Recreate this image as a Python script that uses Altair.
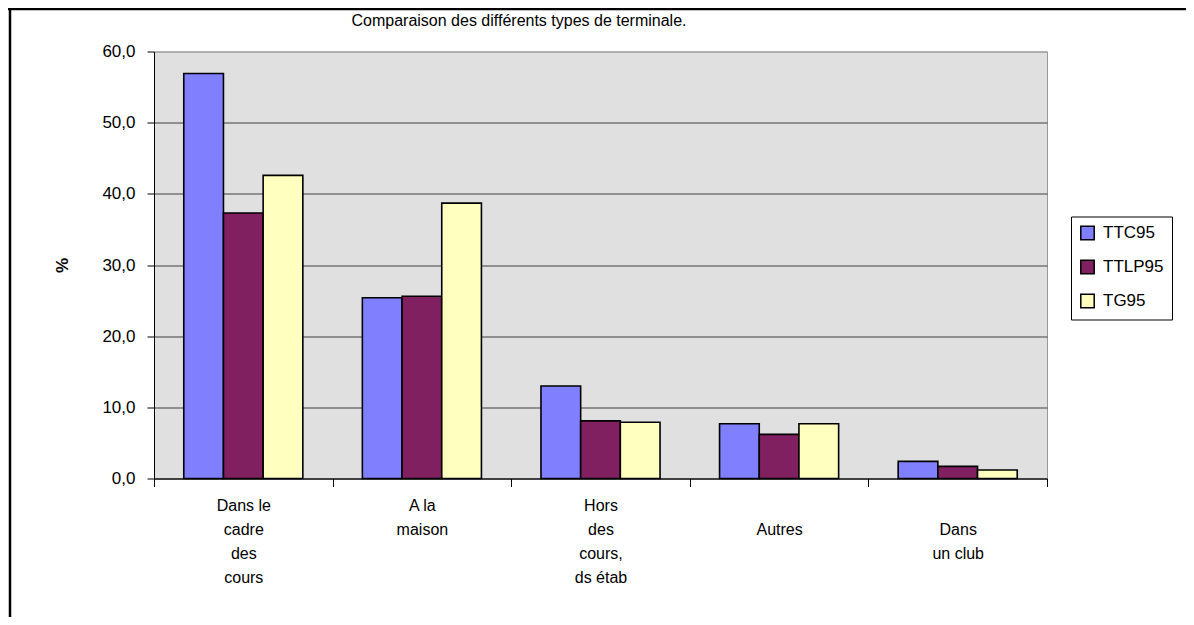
import altair as alt
import pandas as pd

categories = [
    "Dans le\ncadre\ndes\ncours",
    "A la\nmaison",
    "Hors\ndes\ncours,\nds étab",
    "\nAutres",
    "\nDans\nun club",
]
series = ["TTC95", "TTLP95", "TG95"]
colors = ["#8080FF", "#802060", "#FFFFC0"]
ttc95 = [56.9, 25.4, 13.0, 7.7, 2.4]
ttlp95 = [37.3, 25.6, 8.1, 6.2, 1.7]
tg95 = [42.6, 38.7, 7.9, 7.7, 1.2]
y_ticks = [0, 10, 20, 30, 40, 50, 60]
title_text = "Comparaison des différents types de terminale."
y_title = "%"

rows = []
for name, vals in zip(series, [ttc95, ttlp95, tg95]):
    for c, v in zip(categories, vals):
        rows.append({"cat": c, "series": name, "value": v})
df = pd.DataFrame(rows)

FONT = "Liberation Sans"

bars = alt.Chart(df).mark_bar(stroke="black", strokeWidth=1.6).encode(
    x=alt.X(
        "cat:N",
        sort=categories,
        title=None,
        scale=alt.Scale(paddingInner=0, paddingOuter=0),
        axis=alt.Axis(
            labelAngle=0,
            labelExpr="split(datum.label, '\\n')",
            labelFontSize=16,
            labelLineHeight=24,
            labelPadding=11,
            labelColor="black",
            labelFont=FONT,
            tickBand="extent",
            tickSize=8,
            tickColor="black",
            domainColor="black",
            grid=False,
        ),
    ),
    xOffset=alt.XOffset(
        "series:N", sort=series,
        scale=alt.Scale(paddingInner=0, paddingOuter=0.75),
    ),
    y=alt.Y(
        "value:Q",
        scale=alt.Scale(domain=[0, 60], nice=False, zero=True),
        title=y_title,
        axis=alt.Axis(
            values=y_ticks,
            labelExpr="replace(format(datum.value, '.1f'), '.', ',')",
            labelFontSize=17,
            labelFont=FONT,
            labelColor="black",
            labelPadding=12,
            tickSize=7,
            tickColor="black",
            domainColor="black",
            grid=True,
            gridColor={"condition": {"test": "datum.value == 60", "value": "#999999"}, "value": "#404040"},
            gridWidth=1,
            titleFont=FONT,
            titleFontSize=17,
            titleFontWeight="bold",
            titleColor="black",
            titleX=-92,
            titleY=213.5,
            titleAlign="center",
            titleBaseline="middle",
        ),
    ),
    color=alt.Color(
        "series:N",
        sort=series,
        scale=alt.Scale(domain=series, range=colors),
        legend=alt.Legend(
            title=None,
            orient="none",
            legendX=917,
            legendY=165,
            direction="vertical",
            padding=8,
            strokeColor="black",
            fillColor="white",
            symbolType="square",
            symbolSize=180,
            symbolStrokeColor="black",
            symbolStrokeWidth=1.5,
            symbolOpacity=1,
            labelFont=FONT,
            labelFontSize=17,
            labelColor="black",
            labelOffset=7,
            rowPadding=13,
        ),
    ),
)

frame = alt.Data(values=[{"k": 1}])
left_line = alt.Chart(frame).mark_rule(color="black", strokeWidth=2.5).encode(
    x=alt.value(-144), y=alt.value(-44), y2=alt.value(572)
)
top_line = alt.Chart(frame).mark_rule(color="black", strokeWidth=2.5).encode(
    x=alt.value(-146), x2=alt.value(1032), y=alt.value(-42.5)
)
title = alt.Chart(alt.Data(values=[{"t": title_text}])).mark_text(
    font=FONT, fontSize=16, color="black", align="center", baseline="alphabetic"
).encode(text="t:N", x=alt.value(365), y=alt.value(-26))

chart = alt.layer(bars, left_line, top_line, title).properties(
    width=893,
    height=427,
    autosize=alt.AutoSizeParams(type="none"),
    padding={"left": 146, "top": 43.5, "right": 139, "bottom": 138},
    background="white",
).configure_view(fill="#E0E0E0", stroke="#999999", strokeWidth=1)

chart.save("out.html", embed_options={"renderer": "svg", "actions": False})
